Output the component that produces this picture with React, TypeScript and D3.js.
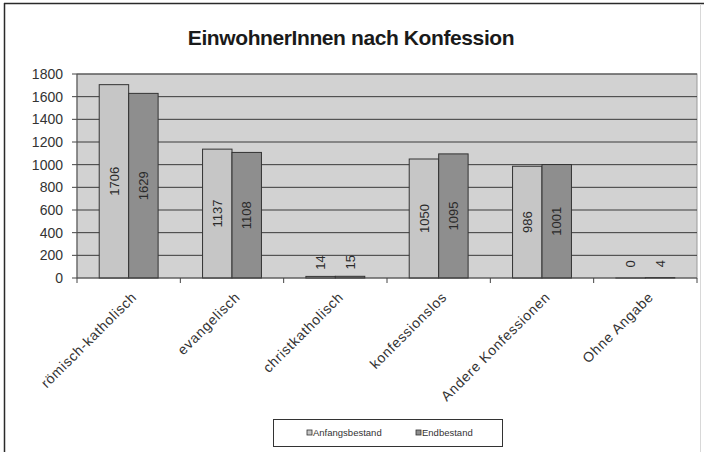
import * as React from 'react';
import * as d3 from 'd3';

const categories = [
  'römisch-katholisch',
  'evangelisch',
  'christkatholisch',
  'konfessionslos',
  'Andere Konfessionen',
  'Ohne Angabe',
];
const seriesNames = ['Anfangsbestand', 'Endbestand'];
const anfangsbestand = [1706, 1137, 14, 1050, 986, 0];
const endbestand = [1629, 1108, 15, 1095, 1001, 4];
const yTicks = [0, 200, 400, 600, 800, 1000, 1200, 1400, 1600, 1800];

const W = 704;
const H = 452;
const plot = { left: 77, right: 697, top: 74, bottom: 278 };
const font = '"Liberation Sans", Arial, sans-serif';
const barColors = ['#c6c6c6', '#8e8e8e'];

export default function App() {
  const x0 = d3
    .scaleBand<string>()
    .domain(categories)
    .range([plot.left, plot.right])
    .paddingInner(0.43)
    .paddingOuter(0.215);
  const x1 = d3
    .scaleBand<string>()
    .domain(seriesNames)
    .range([0, x0.bandwidth()]);
  const y = d3.scaleLinear().domain([0, 1800]).range([plot.bottom, plot.top]);

  const series = [anfangsbestand, endbestand];
  const step = x0.step();

  return (
    <svg
      width={W}
      height={H}
      style={{ position: 'absolute', left: 0, top: 0, fontFamily: font }}
    >
      <rect x={0} y={0} width={W} height={H} fill="#ffffff" />
      {/* chart frame: dark left/top, faint right */}
      <line x1={4.5} x2={4.5} y1={3} y2={H} stroke="#2a2a2a" strokeWidth={1.5} />
      <line x1={4} x2={W} y1={3.5} y2={3.5} stroke="#2a2a2a" strokeWidth={1.5} />
      <line x1={700.5} x2={700.5} y1={4} y2={H} stroke="#d8d8d8" />
      <text
        x={351}
        y={45}
        textAnchor="middle"
        fontSize={21}
        fontWeight="bold"
        fill="#1a1a1a"
        letterSpacing={-0.4}
      >
        EinwohnerInnen nach Konfession
      </text>

      {/* plot area */}
      <rect
        x={plot.left}
        y={plot.top}
        width={plot.right - plot.left}
        height={plot.bottom - plot.top}
        fill="#d2d2d2"
        stroke="#9a9a9a"
      />
      {yTicks.map((t) => (
        <g key={t}>
          {t > 0 && (
            <line
              x1={plot.left}
              x2={plot.right}
              y1={y(t)}
              y2={y(t)}
              stroke="#3a3a3a"
              strokeWidth={1}
            />
          )}
          <line x1={plot.left - 5} x2={plot.left} y1={y(t)} y2={y(t)} stroke="#444" />
          <text
            x={63}
            y={y(t)}
            dy="0.35em"
            textAnchor="end"
            fontSize={14}
            fill="#333"
          >
            {t}
          </text>
        </g>
      ))}
      <line
        x1={plot.left}
        x2={plot.left}
        y1={plot.top}
        y2={plot.bottom}
        stroke="#555"
      />

      {/* bars */}
      {categories.map((c, i) => (
        <g key={c} transform={`translate(${x0(c)},0)`}>
          {seriesNames.map((s, j) => {
            const v = series[j][i];
            const bx = x1(s) ?? 0;
            const bw = x1.bandwidth();
            const inside = v > 100;
            const ly = inside ? (y(v) + y(0)) / 2 : y(v) - 14;
            return (
              <g key={s}>
                <rect
                  x={bx}
                  y={y(v)}
                  width={bw}
                  height={Math.max(y(0) - y(v), 0.01)}
                  fill={barColors[j]}
                  stroke="#333"
                  strokeWidth={1}
                />
                <text
                  transform={`translate(${bx + bw / 2},${ly}) rotate(-90)`}
                  textAnchor="middle"
                  dy="0.35em"
                  fontSize={13}
                  fill="#2a2a2a"
                >
                  {v}
                </text>
              </g>
            );
          })}
        </g>
      ))}

      {/* x axis */}
      <line
        x1={plot.left}
        x2={plot.right}
        y1={plot.bottom}
        y2={plot.bottom}
        stroke="#444"
      />
      {d3.range(categories.length + 1).map((k) => {
        const tx = plot.left + k * step;
        return (
          <line
            key={k}
            x1={tx}
            x2={tx}
            y1={plot.bottom}
            y2={plot.bottom + 5}
            stroke="#444"
          />
        );
      })}
      {categories.map((c) => {
        const cx = (x0(c) ?? 0) + x0.bandwidth() / 2;
        return (
          <text
            key={c}
            transform={`translate(${cx + 2},${291}) rotate(-45)`}
            textAnchor="end"
            dy="0.7em"
            fontSize={14}
            fill="#333"
            letterSpacing={0.7}
          >
            {c}
          </text>
        );
      })}

      {/* legend */}
      <rect x={273.5} y={419.5} width={229} height={27} fill="#fff" stroke="#333" />
      {seriesNames.map((s, j) => {
        const lx = j === 0 ? 307 : 416;
        return (
          <g key={s}>
            <rect
              x={lx}
              y={430}
              width={5}
              height={5}
              fill={barColors[j]}
              stroke="#333"
              strokeWidth={0.8}
            />
            <text x={lx + 6} y={433} dy="0.35em" fontSize={9.5} fill="#333">
              {s}
            </text>
          </g>
        );
      })}
    </svg>
  );
}
